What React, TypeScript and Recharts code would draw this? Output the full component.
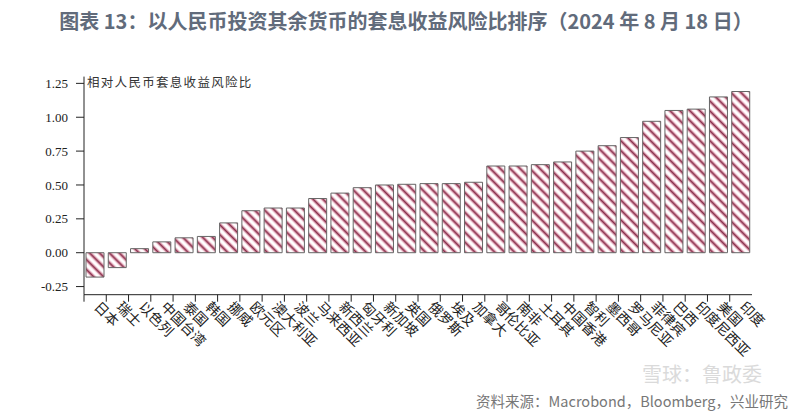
import React from "react";
import { BarChart, Bar, XAxis, YAxis, Customized } from "recharts";

const countries = [
  "日本", "瑞士", "以色列", "中国台湾", "泰国", "韩国", "挪威", "欧元区", "澳大利亚", "波兰",
  "马来西亚", "新西兰", "匈牙利", "新加坡", "英国", "俄罗斯", "埃及", "加拿大", "哥伦比亚", "南非",
  "土耳其", "中国香港", "智利", "墨西哥", "罗马尼亚", "菲律宾", "巴西", "印度尼西亚", "美国", "印度",
];

const ratios = [
  -0.18, -0.11, 0.03, 0.08, 0.11, 0.12, 0.22, 0.31, 0.33, 0.33,
  0.4, 0.44, 0.48, 0.5, 0.505, 0.51, 0.51, 0.52, 0.64, 0.64,
  0.65, 0.67, 0.75, 0.79, 0.85, 0.97, 1.05, 1.06, 1.15, 1.19,
];

const yTicks = [-0.25, 0, 0.25, 0.5, 0.75, 1.0, 1.25];

const title = "图表 13：以人民币投资其余货币的套息收益风险比排序（2024 年 8 月 18 日）";
const yLabel = "相对人民币套息收益风险比";
const source = "资料来源：Macrobond，Bloomberg，兴业研究";
const watermark = "雪球：鲁政委";

const data = countries.map((name, i) => ({ name, value: ratios[i] }));

const CJK = '"Noto Sans CJK SC", "Noto Sans", sans-serif';

const CountryTick = (props: any) => {
  const { x, y, payload } = props;
  const half = payload && payload.offset ? payload.offset : 11.13;
  const tx = x - 2;
  const ty = y + 13;
  return (
    <g>
      <line x1={x - half} y1={y} x2={x - half} y2={y + 7} stroke="#222" strokeWidth={1} />
      <text
        x={tx}
        y={ty}
        textAnchor="start"
        fontSize={14}
        fill="#222"
        fontFamily={CJK}
        transform={`rotate(45, ${tx}, ${ty})`}
      >
        {payload.value}
      </text>
    </g>
  );
};

export default function App() {
  return (
    <div style={{ position: "absolute", left: 0, top: 0, width: 800, height: 419, background: "#fff" }}>
      <BarChart
        width={800}
        height={419}
        data={data}
        margin={{ top: 76.6, right: 48, bottom: 54.3, left: 24 }}
        barSize={18}
      >
        <defs>
          <pattern
            id="hatch"
            patternUnits="userSpaceOnUse"
            width={7}
            height={7}
            patternTransform="rotate(-45)"
          >
            <rect x={0} y={0} width={7} height={7} fill="#fff" />
            <line x1={3.5} y1={0} x2={3.5} y2={7} stroke="#f0b6c6" strokeWidth={3.8} />
            <line x1={3.5} y1={0} x2={3.5} y2={7} stroke="#87304c" strokeWidth={1.7} />
          </pattern>
        </defs>
        <XAxis
          dataKey="name"
          interval={0}
          height={70}
          tickSize={0}
          tickMargin={0}
          tickLine={false}
          axisLine={{ stroke: "#222" }}
          tick={<CountryTick />}
        />
        <YAxis
          width={60}
          domain={[-0.31, 1.3]}
          ticks={yTicks}
          interval={0}
          tickFormatter={(v: number) => v.toFixed(2)}
          tickSize={8}
          tickMargin={8}
          axisLine={{ stroke: "#222" }}
          tickLine={{ stroke: "#222" }}
          tick={{ fontSize: 13, fill: "#222", fontFamily: '"Liberation Serif", serif' }}
        />
        <Bar
          dataKey="value"
          fill="url(#hatch)"
          stroke="#666"
          strokeWidth={1}
          isAnimationActive={false}
        />
        <Customized
          component={() => (
            <g>
              <text
                x={406}
                y={29}
                textAnchor="middle"
                fontSize={20}
                fontWeight={700}
                fill="#616b7b"
                fontFamily={CJK}
              >
                {title}
              </text>
              <text x={87} y={87} fontSize={12.5} letterSpacing={1.3} fill="#333" fontFamily={CJK}>
                {yLabel}
              </text>
              <text x={788} y={407} textAnchor="end" fontSize={14.5} fill="#777" fontFamily={CJK}>
                {source}
              </text>
              <text x={762} y={382} textAnchor="end" fontSize={20} fill="#d2d2d2" opacity={0.8} fontFamily={CJK}>
                {watermark}
              </text>
            </g>
          )}
        />
      </BarChart>
    </div>
  );
}
